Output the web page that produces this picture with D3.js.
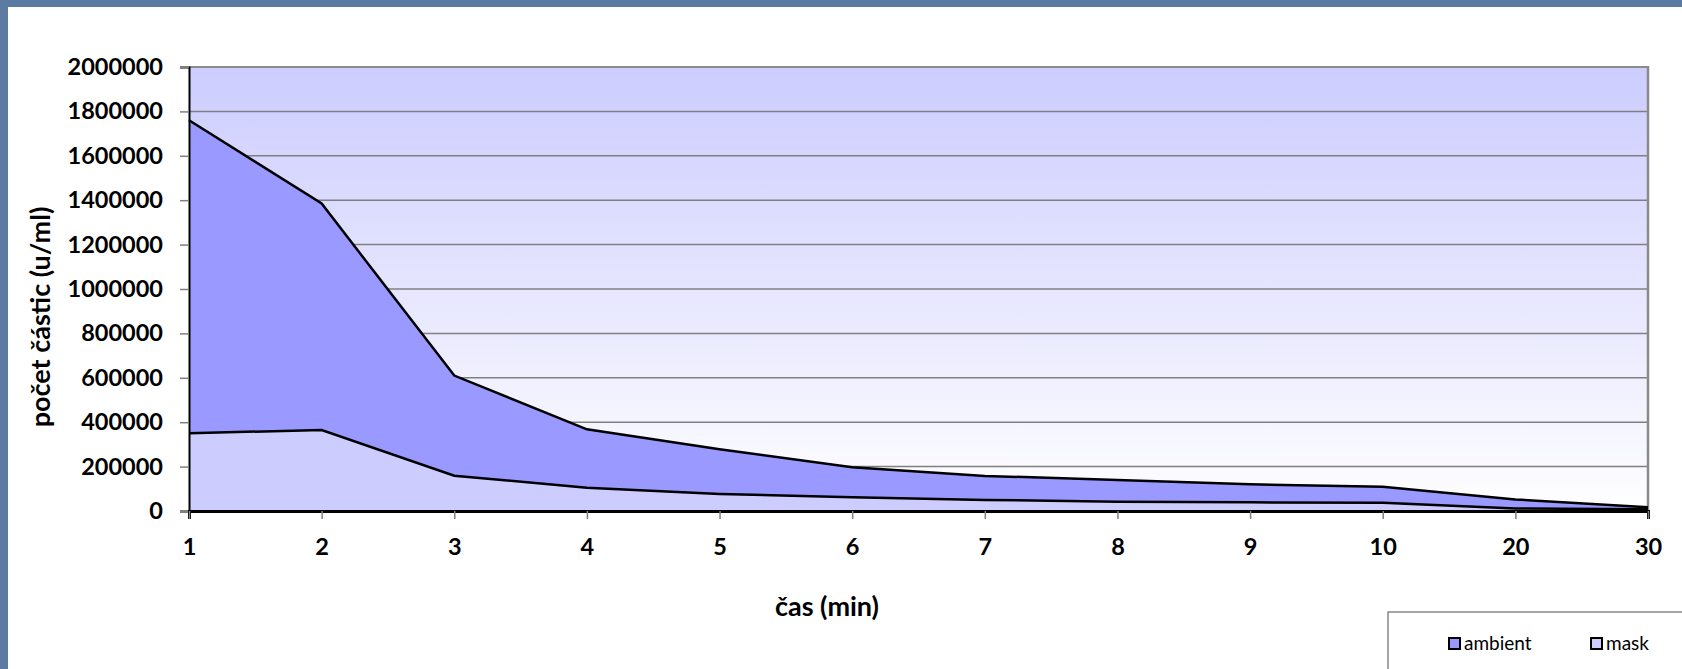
<!DOCTYPE html>
<html>
<head>
<meta charset="utf-8">
<script src="https://cdn.jsdelivr.net/npm/d3@7/dist/d3.min.js"></script>
<style>
  html, body { margin: 0; padding: 0; background: #5b7ba3; }
  svg { display: block; }
  text { font-family: Lato, "Open Sans", sans-serif; }
</style>
</head>
<body>
<svg id="chart" width="1682" height="669"></svg>
<script>
// Particle counts over time: room air vs. under the mask
const categories = ["1", "2", "3", "4", "5", "6", "7", "8", "9", "10", "20", "30"];
const ambient = [1760000, 1385000, 610000, 368000, 278000, 197000, 158000, 140000, 120000, 109000, 52000, 17000];
const mask = [350000, 365000, 159000, 105000, 77000, 62000, 50000, 42000, 39000, 37000, 11000, 8000];
const yTicks = [0, 200000, 400000, 600000, 800000, 1000000, 1200000, 1400000, 1600000, 1800000, 2000000];
const seriesNames = ["ambient", "mask"];
const seriesColors = ["#9999ff", "#ccccff"];

const svg = d3.select("#chart");
const W = 1682, H = 669;
const plot = { left: 189, top: 67, right: 1648, bottom: 511 };

// white chart panel over the blue backdrop
svg.append("rect").attr("x", 8).attr("y", 7).attr("width", W - 8).attr("height", H - 7).attr("fill", "#ffffff");

const defs = svg.append("defs");
const grad = defs.append("linearGradient").attr("id", "plotBg").attr("x1", 0).attr("y1", 0).attr("x2", 0).attr("y2", 1);
grad.append("stop").attr("offset", "0%").attr("stop-color", "#ccccff");
grad.append("stop").attr("offset", "100%").attr("stop-color", "#ffffff");

const x = d3.scalePoint().domain(categories).range([plot.left, plot.right]);
const y = d3.scaleLinear().domain([0, 2000000]).range([plot.bottom, plot.top]);

// plot background
svg.append("rect")
  .attr("x", plot.left).attr("y", plot.top)
  .attr("width", plot.right - plot.left).attr("height", plot.bottom - plot.top)
  .attr("fill", "url(#plotBg)");

// horizontal gridlines
svg.append("g").selectAll("line").data(yTicks.filter(d => d > 0)).join("line")
  .attr("x1", plot.left).attr("x2", plot.right)
  .attr("y1", d => y(d)).attr("y2", d => y(d))
  .attr("stroke", "#808080").attr("stroke-width", 1.5);

// top and right border of plot area
svg.append("line")
  .attr("x1", plot.right).attr("x2", plot.right)
  .attr("y1", plot.top - 1).attr("y2", plot.bottom)
  .attr("stroke", "#8a8a8a").attr("stroke-width", 2.5);
svg.append("line")
  .attr("x1", plot.left).attr("x2", plot.right + 1)
  .attr("y1", plot.top).attr("y2", plot.top)
  .attr("stroke", "#8a8a8a").attr("stroke-width", 2);

// overlapping areas: ambient behind, mask in front
const series = [ambient, mask];
series.forEach((vals, i) => {
  const data = categories.map((c, j) => ({ c, v: vals[j] }));
  const area = d3.area().x(d => x(d.c)).y0(y(0)).y1(d => y(d.v));
  const line = d3.line().x(d => x(d.c)).y(d => y(d.v));
  svg.append("path").datum(data).attr("d", area).attr("fill", seriesColors[i]);
  svg.append("path").datum(data).attr("d", line)
    .attr("fill", "none").attr("stroke", "#000").attr("stroke-width", 2.5)
    .attr("stroke-linejoin", "miter");
});

// y axis
const yAxis = d3.axisLeft(y).tickValues(yTicks).tickSize(9).tickPadding(17).tickFormat(d3.format("d"));
const gy = svg.append("g").attr("transform", `translate(${plot.left},0)`).call(yAxis);
gy.select(".domain").attr("stroke", "#000").attr("stroke-width", 2);
gy.selectAll(".tick line").attr("stroke", "#808080").attr("stroke-width", 1.5);
gy.selectAll(".tick text").attr("fill", "#000").attr("font-size", 23.5).attr("font-weight", "bold")
  .attr("font-family", "Lato, sans-serif");

// x axis
const xAxis = d3.axisBottom(x).tickSize(8).tickPadding(19);
const gx = svg.append("g").attr("transform", `translate(0,${plot.bottom})`).call(xAxis);
gx.select(".domain").attr("stroke", "#000").attr("stroke-width", 3);
gx.selectAll(".tick line").attr("stroke", "#808080").attr("stroke-width", 1.5);
gx.selectAll(".tick text").attr("fill", "#000").attr("font-size", 23.5).attr("font-weight", "bold")
  .attr("font-family", "Lato, sans-serif");

// axis titles
svg.append("text")
  .attr("transform", `translate(50,${(plot.top + plot.bottom) / 2 + 28}) rotate(-90)`)
  .attr("text-anchor", "middle").attr("font-size", 27).attr("font-weight", "bold")
  .text("počet částic (u/ml)");
svg.append("text")
  .attr("x", 827).attr("y", 616)
  .attr("text-anchor", "middle").attr("font-size", 27).attr("font-weight", "bold")
  .text("čas (min)");

// legend
svg.append("rect").attr("x", 1388).attr("y", 612).attr("width", 300).attr("height", 80)
  .attr("fill", "#fff").attr("stroke", "#6b6b6b").attr("stroke-width", 1.2);
const legendX = [1449, 1591];
seriesNames.forEach((name, i) => {
  svg.append("rect").attr("x", legendX[i]).attr("y", 638).attr("width", 11).attr("height", 11)
    .attr("fill", seriesColors[i]).attr("stroke", "#000").attr("stroke-width", 2);
  svg.append("text").attr("x", legendX[i] + 15).attr("y", 650)
    .attr("font-size", 19).attr("fill", "#000").text(name);
});
</script>
</body>
</html>
